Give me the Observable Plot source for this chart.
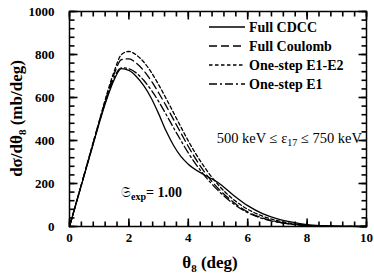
<!DOCTYPE html>
<html><head><meta charset="utf-8">
<script src="https://cdn.jsdelivr.net/npm/d3@7"></script>
<script src="https://cdn.jsdelivr.net/npm/@observablehq/plot@0.6"></script>
<style>body{margin:0;background:#fff} svg{display:block}</style>
</head><body><div id="chart"></div>
<script>
// ---- data ----
const theta      = [0,0.25,0.5,0.75,1,1.25,1.5,1.75,2,2.25,2.5,2.75,3,3.25,3.5,3.75,4,4.5,5,5.5,6,6.5,7,7.5,8,8.5,9,10];
const fullCDCC   = [0,120,240,360,480,590,682,734,726,698,655,598,525,445,378,326,290,243,205,148,97,60,36,20,9,4,1.5,0];
const fullCoul   = [0,122,244,366,488,605,708,776,780,760,725,678,622,562,498,435,372,262,178,115,68,40,22,11,5,2,0.8,0];
const oneStepE12 = [0,122,245,368,490,612,720,800,814,798,765,718,660,596,530,463,398,285,195,128,80,48,27,14,6,2.5,1,0];
const oneStepE1  = [0,121,242,362,484,597,692,738,734,714,680,635,582,522,460,400,342,245,168,108,64,37,20,10,4.5,1.8,0.7,0];
const seriesNames = ["Full CDCC","Full Coulomb","One-step E1-E2","One-step E1"];
const xTicks = [0,2,4,6,8,10];
const yTicks = [0,200,400,600,800,1000];

// ---- layout / styles ----
const W=374,H=276,mL=69,mR=8,mT=11,mB=50;
const fw=W-mL-mR, fh=H-mT-mB;
const dashes = [null,"8,4","3.5,2.5","8,3,2,3"];
const font = "Liberation Serif";

const seriesVals=[fullCDCC,fullCoul,oneStepE12,oneStepE1];
const data = seriesNames.flatMap((n,k)=>theta.map((t,i)=>({name:n,x:t,y:seriesVals[k][i]})));
const xMinor = d3.range(0,10.0001,0.4);
const yMinor = d3.range(0,1000.1,40);
const xDom=[0,10], yDom=[0,1000];
const ky = (yDom[1]-yDom[0])/fh, kx = (xDom[1]-xDom[0])/fw; // data units per pixel

// inward tick segments (links through the plot's scales)
const tickSegs = [];
[[xMinor,5],[xTicks,8]].forEach(([vals,len])=>vals.forEach(v=>{
  tickSegs.push({x1:v,x2:v,y1:yDom[0],y2:yDom[0]+len*ky});
  tickSegs.push({x1:v,x2:v,y1:yDom[1],y2:yDom[1]-len*ky});
}));
[[yMinor,5],[yTicks,8]].forEach(([vals,len])=>vals.forEach(v=>{
  tickSegs.push({y1:v,y2:v,x1:xDom[0],x2:xDom[0]+len*kx});
  tickSegs.push({y1:v,y2:v,x1:xDom[1],x2:xDom[1]-len*kx});
}));

const svg = Plot.plot({
  width:W,height:H,marginLeft:mL,marginRight:mR,marginTop:mT,marginBottom:mB,
  style:{fontFamily:font,background:"#fff",color:"#000"},
  x:{domain:xDom},
  y:{domain:yDom},
  marks:[
    ...seriesNames.map((n,k)=>Plot.line(data.filter(d=>d.name===n),{x:"x",y:"y",stroke:"#000",strokeWidth:1.3,strokeDasharray:dashes[k],curve:"monotone-x"})),
    Plot.frame({stroke:"#000",strokeWidth:1.5}),
    Plot.link(tickSegs,{x1:"x1",y1:"y1",x2:"x2",y2:"y2",stroke:"#000",strokeWidth:1.6,curve:"linear"}),
    Plot.axisX({ticks:xTicks,tickSize:0,tickPadding:6,fontSize:13,fontWeight:"bold",fontFamily:font,tickFormat:d3.format("d"),label:null}),
    Plot.axisY({ticks:yTicks,tickSize:0,tickPadding:15,fontSize:13,fontWeight:"bold",fontFamily:font,tickFormat:d3.format("d"),label:null})
  ]
});
document.getElementById("chart").appendChild(svg);

const s = d3.select(svg);
const T = (x,y,size)=>s.append("text").attr("x",x).attr("y",y).attr("font-family",font)
  .attr("font-size",size).attr("fill","#000");
// y label
const yl = s.append("text").attr("transform",`translate(22,${mT+fh/2}) rotate(-90)`)
  .attr("text-anchor","middle").attr("font-family",font).attr("font-size",17).attr("font-weight","bold");
yl.append("tspan").text("dσ/dθ");
yl.append("tspan").attr("font-size",11).attr("dy",4).text("8");
yl.append("tspan").attr("dy",-4).text(" (mb/deg)");
// x label
const xl = T(210,268,17).attr("text-anchor","middle").attr("font-weight","bold");
xl.append("tspan").text("θ");
xl.append("tspan").attr("font-size",11).attr("dy",4).text("8");
xl.append("tspan").attr("dy",-4).text(" (deg)");
// energy annotation
const an = T(362,143,14.5).attr("text-anchor","end");
an.append("tspan").text("500 keV ≤ ε");
an.append("tspan").attr("font-size",10).attr("dy",3).text("17");
an.append("tspan").attr("dy",-3).text(" ≤ 750 keV");
// normalisation annotation
const sn = T(121,197,14).attr("text-anchor","start").attr("font-weight","bold");
sn.append("tspan").attr("font-weight","normal").text("𝔖");
sn.append("tspan").attr("font-size",10).attr("dy",3).text("exp");
sn.append("tspan").attr("dy",-3).text("= 1.00");
// legend
const rowsY=[27,46,65,84];
seriesNames.forEach((n,k)=>{
  s.append("line").attr("x1",209).attr("x2",245).attr("y1",rowsY[k]).attr("y2",rowsY[k])
    .attr("stroke","#000").attr("stroke-width",1.3).attr("stroke-dasharray",dashes[k]);
  T(249,rowsY[k]+4.5,14).attr("text-anchor","start").attr("font-weight","bold").text(n);
});
</script></body></html>
